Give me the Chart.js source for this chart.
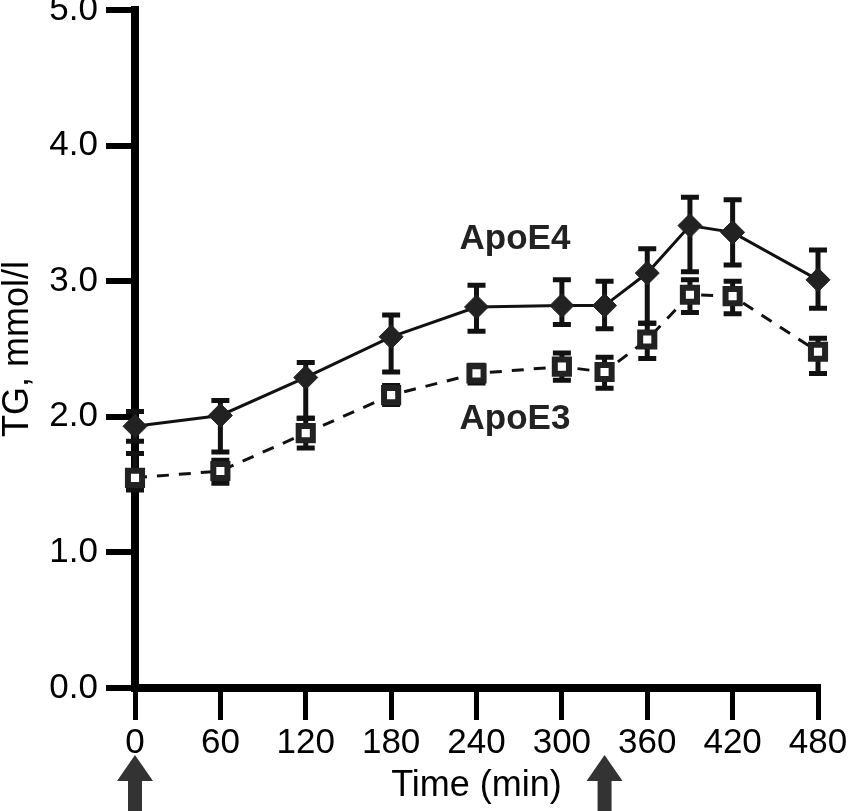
<!DOCTYPE html>
<html>
<head>
<meta charset="utf-8">
<script src="https://cdn.jsdelivr.net/npm/chart.js@4"></script>
<style>
  html, body { margin: 0; padding: 0; background: #fff; }
  #wrap { width: 850px; height: 811px; }
</style>
</head>
<body>
<div id="wrap"><canvas id="tgChart" width="850" height="811"></canvas></div>
<script>
// minutes after first meal
const times = [0, 60, 120, 180, 240, 300, 330, 360, 390, 420, 480];

// TG, mmol/l
const apoE4 = [1.93, 2.01, 2.29, 2.59, 2.81, 2.82, 2.82, 3.06, 3.41, 3.36, 3.01];
const apoE4Hi = [2.04, 2.12, 2.40, 2.75, 2.97, 3.01, 3.00, 3.24, 3.62, 3.60, 3.23];
const apoE4Lo = [1.82, 1.74, 1.99, 2.33, 2.63, 2.68, 2.65, 2.69, 3.07, 3.12, 2.80];

const apoE3 = [1.55, 1.60, 1.88, 2.16, 2.32, 2.37, 2.33, 2.57, 2.90, 2.89, 2.48];
const apoE3Hi = [1.73, 1.68, 1.99, 2.23, 2.38, 2.47, 2.44, 2.69, 3.01, 3.00, 2.58];
const apoE3Lo = [1.46, 1.51, 1.77, 2.09, 2.25, 2.27, 2.21, 2.43, 2.77, 2.76, 2.32];

const xTicks = [0, 60, 120, 180, 240, 300, 360, 420, 480];
const yTicks = [0, 1, 2, 3, 4, 5];
const mealTimes = [0, 330];

const FONT = "'Liberation Sans', Arial, Helvetica, sans-serif";

const toPoints = (ys) => times.map((t, i) => ({ x: t, y: ys[i] }));

// error bars, drawn under the markers
const errorBars = {
    id: 'errorBars',
    beforeDatasetsDraw(chart) {
        const { ctx, scales: { x, y } } = chart;
        const sets = [[apoE4Hi, apoE4Lo], [apoE3Hi, apoE3Lo]];
        ctx.save();
        ctx.strokeStyle = '#111';
        ctx.lineWidth = 5;
        ctx.lineCap = 'butt';
        sets.forEach(([hi, lo]) => {
            times.forEach((t, i) => {
                const px = x.getPixelForValue(t);
                const top = y.getPixelForValue(hi[i]);
                const bot = y.getPixelForValue(lo[i]);
                ctx.beginPath();
                ctx.moveTo(px, top);
                ctx.lineTo(px, bot);
                ctx.moveTo(px - 9, top);
                ctx.lineTo(px + 9, top);
                ctx.moveTo(px - 9, bot);
                ctx.lineTo(px + 9, bot);
                ctx.stroke();
            });
        });
        ctx.restore();
    }
};

// series names and meal arrows
const annotations = {
    id: 'annotations',
    afterDraw(chart) {
        const { ctx, scales: { x, y } } = chart;
        ctx.save();
        ctx.fillStyle = '#222';
        ctx.font = 'bold 35px ' + FONT;
        ctx.textAlign = 'center';
        ctx.textBaseline = 'middle';
        ctx.fillText('ApoE4', x.getPixelForValue(267), y.getPixelForValue(3.31));
        ctx.fillText('ApoE3', x.getPixelForValue(267), y.getPixelForValue(1.98));

        ctx.fillStyle = '#333';
        mealTimes.forEach((t) => {
            const px = x.getPixelForValue(t);
            ctx.beginPath();
            ctx.moveTo(px, 755);
            ctx.lineTo(px + 18, 781);
            ctx.lineTo(px + 7, 781);
            ctx.lineTo(px + 7, 811);
            ctx.lineTo(px - 7, 811);
            ctx.lineTo(px - 7, 781);
            ctx.lineTo(px - 18, 781);
            ctx.closePath();
            ctx.fill();
        });
        ctx.restore();
    }
};

const ctx = document.getElementById('tgChart').getContext('2d');
const tgChart = new Chart(ctx, {
    type: 'line',
    data: {
        datasets: [
            {
                label: 'ApoE4',
                data: toPoints(apoE4),
                borderColor: '#111',
                borderWidth: 3,
                pointStyle: 'rectRot',
                pointRadius: 12,
                pointBackgroundColor: '#222',
                pointBorderColor: '#222',
                pointBorderWidth: 1,
                clip: false,
                tension: 0,
            },
            {
                label: 'ApoE3',
                data: toPoints(apoE3),
                borderColor: '#111',
                borderWidth: 3,
                borderDash: [12, 10],
                pointStyle: 'rect',
                pointRadius: 10,
                pointBackgroundColor: '#fff',
                pointBorderColor: '#222',
                pointBorderWidth: 6,
                clip: false,
                tension: 0,
            },
        ],
    },
    options: {
        responsive: false,
        animation: false,
        events: [],
        layout: { autoPadding: false, padding: { top: 10, right: 32, left: 0, bottom: 0 } },
        plugins: {
            legend: { display: false },
            tooltip: { enabled: false },
        },
        scales: {
            x: {
                type: 'linear',
                min: 0,
                max: 480,
                afterBuildTicks: (scale) => { scale.ticks = xTicks.map((v) => ({ value: v })); },
                afterFit: (scale) => {
                    scale.height = 123;
                    scale.paddingLeft = 0;
                    scale.paddingRight = 0;
                },
                border: { display: true, width: 8, color: '#000' },
                grid: {
                    drawOnChartArea: false,
                    drawTicks: true,
                    tickLength: 32,
                    lineWidth: 5,
                    color: '#000',
                },
                ticks: {
                    color: '#000',
                    padding: 6,
                    maxRotation: 0,
                    font: { family: FONT, size: 35, lineHeight: 1.0 },
                },
                title: {
                    display: true,
                    text: 'Time (min)',
                    color: '#000',
                    padding: { top: 0, bottom: 7 },
                    font: { family: FONT, size: 36, lineHeight: 1.0 },
                },
            },
            y: {
                min: 0,
                max: 5,
                afterBuildTicks: (scale) => { scale.ticks = yTicks.map((v) => ({ value: v })); },
                afterFit: (scale) => {
                    scale.width = 135;
                    scale.paddingTop = 0;
                    scale.paddingBottom = 0;
                },
                border: { display: true, width: 8, color: '#000' },
                grid: {
                    drawOnChartArea: false,
                    drawTicks: true,
                    tickLength: 29,
                    lineWidth: 6,
                    color: '#000',
                },
                ticks: {
                    color: '#000',
                    padding: 8,
                    font: { family: FONT, size: 35 },
                    callback: (v) => v.toFixed(1),
                },
                title: {
                    display: true,
                    text: 'TG, mmol/l',
                    color: '#000',
                    padding: { top: 0, bottom: 0 },
                    font: { family: FONT, size: 36, lineHeight: 1.0 },
                },
            },
        },
    },
    plugins: [errorBars, annotations],
});
</script>
</body>
</html>
